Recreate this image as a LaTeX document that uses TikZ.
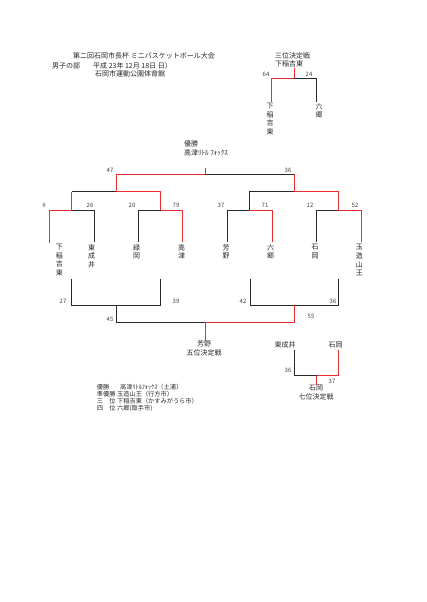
\documentclass[tikz,border=0pt]{standalone}
\usepackage{fontspec}
\newfontfamily\jp{Noto Sans CJK JP}
\definecolor{winred}{RGB}{235,45,45}
\definecolor{lossgray}{RGB}{40,40,40}

\begin{document}
\begin{tikzpicture}[x=1pt, y=-1pt,
  txt/.style={font=\jp\fontsize{7}{8.7}\selectfont, inner sep=0pt, text=black!85},
  sumtxt/.style={font=\jp\fontsize{6.2}{6.7}\selectfont, inner sep=0pt, text=black!85, anchor=west},
  num/.style={font=\jp\fontsize{6}{7}\selectfont, inner sep=0pt, text=black!75},
  vname/.style={txt, align=center, anchor=north},
  win/.style={draw=winred, line width=1pt},
  lose/.style={draw=lossgray, line width=0.9pt}
]
  \useasboundingbox (0,0) rectangle (426,602);

  \node[txt, anchor=west] (title) at (73,56)   {第二回石岡市長杯 ミニバスケットボール大会};
  \node[txt, anchor=west] (div)   at (52,65.5) {男子の部};
  \node[txt, anchor=west] (date)  at (93,65.5) {平成 23年 12月 18日 日）};
  \node[txt, anchor=west] (hall)  at (95,74)   {石岡市運動公園体育館};

  \node[txt, anchor=west, align=left] (third) at (275,60) {三位決定戦\\下稲吉東};
  \coordinate (t3m) at (294.3,78.3);
  \coordinate (t3a) at (271.7,101.7);
  \coordinate (t3b) at (316.7,101.7);
  \draw[lose] (t3b) |- (t3m);
  \draw[win]  (t3a) |- (t3m);
  \draw[win]  (third.south -| t3m) -- (t3m);
  \node[num] (s64) at (266,74) {64};
  \node[num] (s24) at (309,74) {24};
  \node[vname] (n3a) at (270,103) {下\\稲\\吉\\東};
  \node[vname] (n3b) at (319,103) {六\\郷};

  \node[txt, anchor=west, align=left] (champ) at (184,148.5) {優勝\\高津ﾘﾄﾙ ﾌｫｯｸｽ};
  \coordinate (ftop) at (205,168);
  \coordinate (fm)   at (205,174.3);
  \coordinate (sl)   at (116.7,191.7);
  \coordinate (sr)   at (294.3,191.7);
  \coordinate (q1) at (71.7,210);
  \coordinate (q2) at (160.7,210);
  \coordinate (q3) at (249.3,210);
  \coordinate (q4) at (338.3,210);
  \coordinate (b1) at (49.3,243);
  \coordinate (b2) at (94,242);
  \coordinate (b3) at (138.3,242);
  \coordinate (b4) at (182.7,242);
  \coordinate (b5) at (227.3,242);
  \coordinate (b6) at (272.3,242);
  \coordinate (b7) at (316,242);
  \coordinate (b8) at (361,242);
  \draw[lose] (sr |- fm) -- (fm);
  \draw[lose] (q1 |- sl) -- (sl);
  \draw[lose] (q3) |- (sr);
  \draw[lose] (b2) |- (q1);
  \draw[lose] (b3) |- (q2);
  \draw[lose] (b5) |- (q3);
  \draw[lose] (b7) |- (q4);
  \draw[win] (ftop) -- (fm);
  \draw[win] (sl) |- (fm);
  \draw[win] (sr) -- (sr |- fm);
  \draw[win] (q1) -- (q1 |- sl);
  \draw[win] (q2) |- (sl);
  \draw[win] (q4) |- (sr);
  \draw[win] (b1) |- (q1);
  \draw[win] (b4) |- (q2);
  \draw[win] (b6) |- (q3);
  \draw[win] (b8) |- (q4);
  \node[num] (s47) at (110,170) {47};
  \node[num] (s36) at (288,170) {36};
  \node[num] (sa) at (44,205)  {‡};
  \node[num] (sb) at (90,205)  {26};
  \node[num] (sc) at (132,205) {20};
  \node[num] (sd) at (176,205) {79};
  \node[num] (se) at (221,205) {37};
  \node[num] (sf) at (265,205) {71};
  \node[num] (sg) at (310,205) {12};
  \node[num] (sh) at (355,205) {52};
  \node[vname] (n1) at (59.3,244)  {下\\稲\\吉\\東};
  \node[vname] (n2) at (91.7,244)  {東\\成\\井};
  \node[vname] (n3) at (136.7,244) {緑\\岡};
  \node[vname] (n4) at (181.7,244) {高\\津};
  \node[vname] (n5) at (226,244)   {芳\\野};
  \node[vname] (n6) at (270.7,244) {六\\郷};
  \node[vname] (n7) at (315,244)   {石\\岡};
  \node[vname] (n8) at (359.3,244) {玉\\造\\山\\王};

  \coordinate (d1) at (71.7,279.3);
  \coordinate (d2) at (160.7,279.3);
  \coordinate (d3) at (250,279.3);
  \coordinate (d4) at (338.3,279.3);
  \coordinate (c1) at (116.7,305);
  \coordinate (c2) at (294.3,305);
  \coordinate (c5) at (205.7,322.3);
  \draw[lose] (d1) |- (c1);
  \draw[lose] (d2) |- (c1);
  \draw[lose] (d3) |- (c2);
  \draw[lose] (d4) |- (c2);
  \draw[lose] (c1) |- (c5);
  \draw[win]  (c2) |- (c5);
  \node[txt, align=center, anchor=north] (fifth) at (204,340.5) {芳野\\五位決定戦};
  \draw[win] (c5) -- (c5 |- fifth.north);
  \node[num] (s27) at (63,301.7)  {27};
  \node[num] (s39) at (176,301.7) {39};
  \node[num] (s42) at (243,301.7) {42};
  \node[num] (s36b) at (333,301.7) {36};
  \node[num] (s45) at (110,319)  {45};
  \node[num] (s55) at (311,316)  {55};

  \node[txt] (e1) at (285,345)   {東成井};
  \node[txt] (e2) at (335.5,345) {石岡};
  \coordinate (e1b) at (294.3,350);
  \coordinate (e2b) at (338.7,350);
  \coordinate (c7) at (316.7,375.7);
  \draw[lose] (e1b) |- (c7);
  \draw[win]  (e2b) |- (c7);
  \node[txt, align=center, anchor=north] (seventh) at (316,385) {石岡\\七位決定戦};
  \draw[win] (c7) -- (c7 |- seventh.north);
  \node[num] (s36c) at (288,370) {36};
  \node[num] (s37) at (332,381)  {37};

  \node[sumtxt] (r1)  at (96.7,387)  {優勝};
  \node[sumtxt] (r1t) at (120,387)   {高津ﾘﾄﾙﾌｫｯｸｽ（土浦）};
  \node[sumtxt] (r2)  at (96.7,394)  {準優勝};
  \node[sumtxt] (r2t) at (117,394)   {玉造山王（行方市）};
  \node[sumtxt] (r3)  at (96.7,401)  {三　位};
  \node[sumtxt] (r3t) at (117,401)   {下稲吉東（かすみがうら市）};
  \node[sumtxt] (r4)  at (96.7,408)  {四　位};
  \node[sumtxt] (r4t) at (117,408)   {六郷(取手市)};
\end{tikzpicture}
\end{document}
